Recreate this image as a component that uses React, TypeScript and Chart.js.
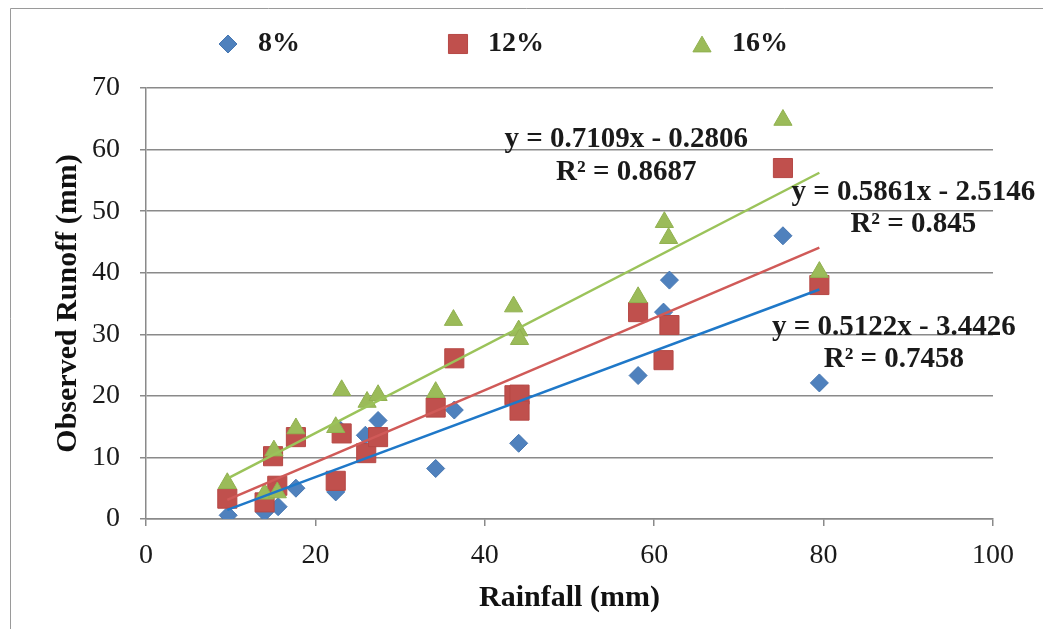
import React, { useEffect, useRef } from 'react';
import { Chart, registerables } from 'chart.js';

Chart.register(...registerables);

// ---- data ----
const seriesLabels = ['8%', '12%', '16%'];

const rain8 = [9.7, 14.0, 15.6, 17.7, 22.4, 22.9, 25.9, 27.4, 34.2, 36.4, 44.0, 58.1, 61.1, 61.8, 75.2, 79.5];
const runoff8 = [0.6, 1.1, 2.0, 5.0, 4.4, 14.5, 13.6, 16.0, 8.2, 17.7, 12.3, 23.3, 33.6, 38.8, 46.0, 22.1];

const rain12 = [9.6, 14.0, 15.5, 15.0, 17.7, 22.4, 23.1, 26.0, 27.4, 34.2, 36.4, 43.5, 44.1, 44.1, 58.1, 61.1, 61.8, 75.2, 79.5];
const runoff12 = [3.3, 2.7, 5.4, 10.2, 13.3, 6.2, 13.9, 10.7, 13.3, 18.1, 26.1, 20.1, 20.2, 17.6, 33.6, 25.8, 31.5, 57.0, 38.0];

const rain16 = [9.6, 14.0, 15.5, 15.1, 17.7, 22.4, 23.1, 26.1, 27.4, 34.2, 36.3, 43.4, 44.0, 44.1, 58.1, 61.2, 61.7, 75.2, 79.5];
const runoff16 = [5.8, 4.1, 4.3, 11.1, 14.7, 14.9, 20.9, 19.0, 20.1, 20.6, 32.3, 34.5, 30.6, 29.2, 36.0, 48.2, 45.6, 64.8, 40.1];

const trendSlopes = [0.5122, 0.5861, 0.7109];
const trendIntercepts = [-3.4426, -2.5146, -0.2806];
const trendXMin = 9.6;
const trendXMax = 79.5;

const equationTexts = ['y = 0.5122x - 3.4426', 'y = 0.5861x - 2.5146', 'y = 0.7109x - 0.2806'];
const r2Texts = ['R² = 0.7458', 'R² = 0.845', 'R² = 0.8687'];
const labelX = [88.3, 90.6, 56.7];
const equationY = [31.1, 53.1, 61.7];
const r2Y = [25.9, 47.9, 56.3];

const xTickStep = 20;
const yTickStep = 10;
const xMax = 100;
const yMax = 70;

// ---- styles ----
const FAMILY = '"Liberation Serif", "Times New Roman", serif';
const markerStyles = ['rectRot', 'rect', 'triangle'];
const markerRadius = [9, 13.5, 10.5];
const markerFill = ['#4F81BD', '#C0504D', '#9BBB59'];
const markerBorder = ['#4677B2', '#B64845', '#91B150'];
const trendColors = ['#1F78C8', '#D05A58', '#9BC35A'];

function drawMarker(ctx: CanvasRenderingContext2D, style: string, x: number, y: number, r: number, fill: string, stroke: string) {
  ctx.save();
  ctx.beginPath();
  if (style === 'rectRot') {
    ctx.moveTo(x - r, y);
    ctx.lineTo(x, y - r);
    ctx.lineTo(x + r, y);
    ctx.lineTo(x, y + r);
    ctx.closePath();
  } else if (style === 'rect') {
    const s = r * Math.SQRT1_2;
    ctx.rect(x - s, y - s, 2 * s, 2 * s);
  } else {
    ctx.moveTo(x, y - r);
    ctx.lineTo(x + 0.866 * r, y + 0.5 * r);
    ctx.lineTo(x - 0.866 * r, y + 0.5 * r);
    ctx.closePath();
  }
  ctx.fillStyle = fill;
  ctx.fill();
  ctx.lineWidth = 1;
  ctx.strokeStyle = stroke;
  ctx.stroke();
  ctx.restore();
}

const overlayPlugin = {
  id: 'overlay',
  beforeDraw(chart: any) {
    const ctx = chart.ctx as CanvasRenderingContext2D;
    ctx.save();
    ctx.fillStyle = '#ffffff';
    ctx.fillRect(0, 0, chart.width, chart.height);
    ctx.strokeStyle = '#9a9a9a';
    ctx.lineWidth = 1;
    ctx.beginPath();
    ctx.moveTo(10.5, chart.height);
    ctx.lineTo(10.5, 8.5);
    ctx.lineTo(chart.width, 8.5);
    ctx.stroke();
    ctx.restore();
  },
  afterDraw(chart: any) {
    const ctx = chart.ctx as CanvasRenderingContext2D;
    const xs = chart.scales.x;
    const ys = chart.scales.y;
    ctx.save();
    ctx.fillStyle = '#1a1a1a';
    ctx.font = 'bold 29px ' + FAMILY;
    ctx.textAlign = 'center';
    ctx.textBaseline = 'middle';
    for (let i = 0; i < equationTexts.length; i++) {
      const px = xs.getPixelForValue(labelX[i]);
      ctx.fillText(equationTexts[i], px, ys.getPixelForValue(equationY[i]));
      ctx.fillText(r2Texts[i], px, ys.getPixelForValue(r2Y[i]));
    }
    // legend
    ctx.font = 'bold 28px ' + FAMILY;
    ctx.textAlign = 'left';
    let x = 218;
    const cy = 44;
    for (let i = 0; i < seriesLabels.length; i++) {
      const r = markerRadius[i];
      const dy = markerStyles[i] === 'triangle' ? 0.25 * r : 0;
      drawMarker(ctx, markerStyles[i], x + 10, cy + dy, r, markerFill[i], markerBorder[i]);
      x += 40;
      ctx.fillStyle = '#1a1a1a';
      ctx.fillText(seriesLabels[i], x, cy);
      x += ctx.measureText(seriesLabels[i]).width + 148;
    }
    ctx.restore();
  },
};

export default function App() {
  const ref = useRef<HTMLCanvasElement | null>(null);

  useEffect(() => {
    document.body.style.margin = '0';
    if (!ref.current) return;

    const pointSets = [
      { xs: rain8, ys: runoff8 },
      { xs: rain12, ys: runoff12 },
      { xs: rain16, ys: runoff16 },
    ];

    const scatterDatasets = pointSets.map((s, i) => ({
      label: seriesLabels[i],
      data: s.xs.map((x, j) => ({ x, y: s.ys[j] })),
      pointStyle: markerStyles[i],
      pointRadius: markerRadius[i],
      pointHoverRadius: markerRadius[i],
      backgroundColor: markerFill[i],
      borderColor: markerBorder[i],
      borderWidth: 1,
      showLine: false,
      order: 3 - i,
    }));

    const trendDatasets = trendSlopes.map((m, i) => ({
      label: 'trend ' + seriesLabels[i],
      data: [
        { x: trendXMin, y: m * trendXMin + trendIntercepts[i] },
        { x: trendXMax, y: m * trendXMax + trendIntercepts[i] },
      ],
      showLine: true,
      borderColor: trendColors[i],
      borderWidth: 2.5,
      pointRadius: 0,
      fill: false,
      order: 0,
    }));

    const axisColor = '#8a8a8a';
    const tickFont = { size: 28, family: FAMILY };
    const titleFont = { size: 30, family: FAMILY, weight: 'bold' as const };

    const chart = new Chart(ref.current, {
      type: 'scatter',
      data: { datasets: [...scatterDatasets, ...trendDatasets] as any },
      plugins: [overlayPlugin],
      options: {
        responsive: false,
        animation: false,
        layout: { padding: { top: 88, right: 50, bottom: 0, left: 0 } },
        plugins: {
          legend: { display: false },
          tooltip: { enabled: false },
        },
        scales: {
          x: {
            type: 'linear',
            min: 0,
            max: xMax,
            ticks: { stepSize: xTickStep, padding: 13, color: '#1a1a1a', font: tickFont },
            grid: { display: true, drawOnChartArea: false, drawTicks: true, tickLength: 7, color: axisColor, lineWidth: 1.5 },
            border: { display: true, color: axisColor, width: 1.5 },
            title: { display: true, text: 'Rainfall (mm)', color: '#111', font: titleFont, padding: { top: 0, bottom: 13 } },
            afterFit: (s: any) => { s.height = 110; },
          },
          y: {
            type: 'linear',
            min: 0,
            max: yMax,
            ticks: { stepSize: yTickStep, padding: 20, color: '#1a1a1a', font: tickFont },
            grid: { display: true, drawTicks: true, tickLength: 6, color: axisColor, lineWidth: 1.5 },
            border: { display: true, color: axisColor, width: 1.5 },
            title: { display: true, text: 'Observed Runoff (mm)', color: '#111', font: titleFont, padding: { top: 50, bottom: 0 } },
            afterFit: (s: any) => { s.width = 146; },
          },
        },
      } as any,
    });

    return () => chart.destroy();
  }, []);

  return (
    <div style={{ width: 1043, height: 629 }}>
      <canvas ref={ref} width={1043} height={629} style={{ display: 'block', width: 1043, height: 629 }} />
    </div>
  );
}
